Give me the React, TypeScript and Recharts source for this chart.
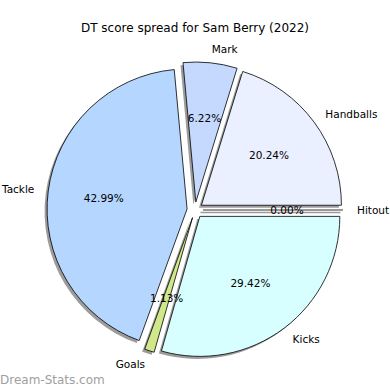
import React from "react";
import { Cell, Pie, PieChart, Sector } from "recharts";

const labels = ["Handballs", "Mark", "Tackle", "Goals", "Kicks", "Hitout"];
const shares = [20.24, 6.22, 42.99, 1.13, 29.42, 0.0];
const colors = ["#eaf0ff", "#c5d9ff", "#b5d6ff", "#d0e88a", "#d8ffff", "#e6e6e6"];

const data = labels.map((name, i) => ({ name, value: shares[i] }));

const FONT = "DejaVu Sans, sans-serif";
const RADIAN = Math.PI / 180;
const EXPLODE = 8;
const CX = 195;
const CY = 210;
const R = 140;
const SHADOW = "#9c9c9c";

function explodedShape(isShadow: boolean) {
  return (props: any) => {
    const { cx, cy, midAngle, startAngle, endAngle, outerRadius } = props;
    const cos = Math.cos(-midAngle * RADIAN);
    const sin = Math.sin(-midAngle * RADIAN);
    const ox = cx + EXPLODE * cos;
    const oy = cy + EXPLODE * sin;
    if (Math.abs(endAngle - startAngle) < 1e-6) {
      // zero slice: matplotlib still draws its edge as a line
      return (
        <line
          x1={ox}
          y1={oy}
          x2={ox + outerRadius * cos}
          y2={oy + outerRadius * sin}
          stroke={isShadow ? SHADOW : "#000"}
          strokeWidth={isShadow ? 1.5 : 0.8}
        />
      );
    }
    return (
      <Sector
        {...props}
        cx={ox}
        cy={oy}
        fill={isShadow ? SHADOW : props.fill}
        stroke={isShadow ? "none" : "#000"}
        strokeWidth={isShadow ? 0 : 0.8}
      />
    );
  };
}

function renderLabel(props: any) {
  const { cx, cy, midAngle, outerRadius, name, value } = props;
  const cos = Math.cos(-midAngle * RADIAN);
  const sin = Math.sin(-midAngle * RADIAN);
  const ox = cx + EXPLODE * cos;
  const oy = cy + EXPLODE * sin;
  return (
    <g>
      <text
        x={ox + outerRadius * 1.1 * cos}
        y={oy + outerRadius * 1.1 * sin}
        textAnchor={cos >= 0 ? "start" : "end"}
        dominantBaseline="central"
        fontFamily={FONT}
        fontSize={10.5}
        fill="#000"
      >
        {name}
      </text>
      <text
        x={ox + outerRadius * 0.6 * cos}
        y={oy + outerRadius * 0.6 * sin}
        textAnchor="middle"
        dominantBaseline="central"
        fontFamily={FONT}
        fontSize={10.5}
        fill="#000"
      >
        {value.toFixed(2)}%
      </text>
    </g>
  );
}

export default function App() {
  return (
    <div style={{ position: "absolute", left: 0, top: 0, width: 390, height: 390, background: "#fff" }}>
      <div
        style={{
          position: "absolute",
          top: 21,
          width: 390,
          textAlign: "center",
          fontFamily: FONT,
          fontSize: 12,
          color: "#000",
        }}
      >
        DT score spread for Sam Berry (2022)
      </div>
      <PieChart width={390} height={390} margin={{ top: 0, right: 0, bottom: 0, left: 0 }}>
        <Pie
          data={data}
          dataKey="value"
          nameKey="name"
          cx={CX - 2.5}
          cy={CY + 2.5}
          outerRadius={R}
          startAngle={0}
          endAngle={360}
          isAnimationActive={false}
          shape={explodedShape(true)}
          stroke="none"
          fill={SHADOW}
        />
        <Pie
          data={data}
          dataKey="value"
          nameKey="name"
          cx={CX}
          cy={CY}
          outerRadius={R}
          startAngle={0}
          endAngle={360}
          isAnimationActive={false}
          shape={explodedShape(false)}
          stroke="#000"
          label={renderLabel}
          labelLine={false}
        >
          {data.map((d, i) => (
            <Cell key={d.name} fill={colors[i]} />
          ))}
        </Pie>
      </PieChart>
      <div
        style={{
          position: "absolute",
          left: 0,
          top: 373,
          fontFamily: FONT,
          fontSize: 12,
          color: "#a0a0a0",
        }}
      >
        Dream-Stats.com
      </div>
    </div>
  );
}
